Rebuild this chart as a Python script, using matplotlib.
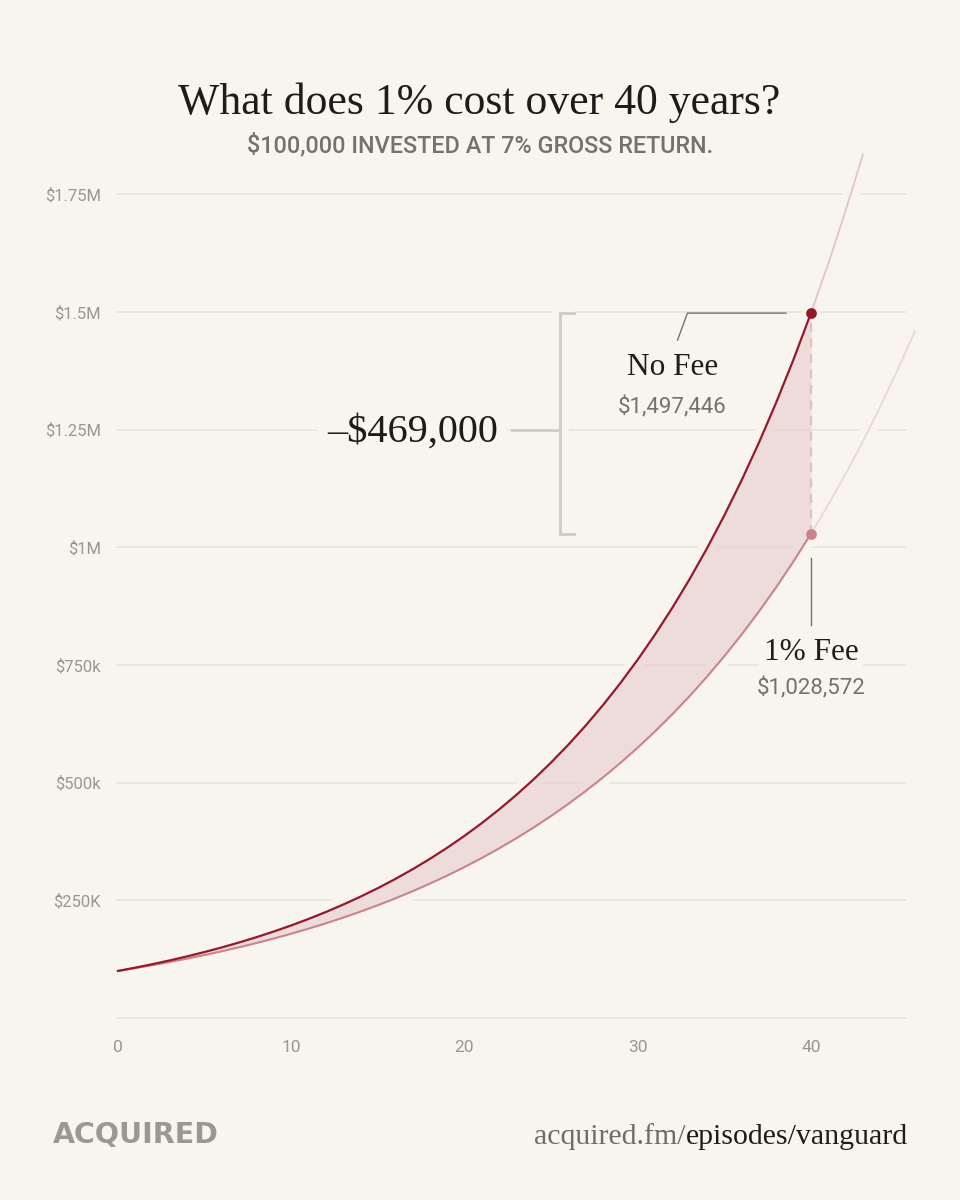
import matplotlib
matplotlib.use("Agg")
import matplotlib.pyplot as plt

# ---------------- data ----------------
years_no_fee = list(range(0, 44))
value_no_fee = [100000, 107000, 114490, 122504, 131080, 140255, 150073, 160578,
                171819, 183846, 196715, 210485, 225219, 240985, 257853, 275903,
                295216, 315882, 337993, 361653, 386968, 414056, 443040, 474053,
                507237, 542743, 580735, 621387, 664884, 711426, 761226, 814512,
                871528, 932535, 997812, 1067658, 1142394, 1222362, 1307927,
                1399482, 1497446, 1602267, 1714426, 1834435]
years_fee = list(range(0, 47))
value_fee = [100000, 106000, 112360, 119102, 126248, 133823, 141852, 150363,
             159385, 168948, 179085, 189830, 201220, 213293, 226090, 239656,
             254035, 269277, 285434, 302560, 320714, 339956, 360354, 381975,
             404893, 429187, 454938, 482235, 511169, 541839, 574349, 608810,
             645339, 684059, 725103, 768609, 814725, 863609, 915425, 970351,
             1028572, 1090286, 1155703, 1225045, 1298548, 1376461, 1459049]
horizon_year = 40
no_fee_final = 1497446
fee_final = 1028572
no_fee_label = "No Fee"
no_fee_value_label = "$1,497,446"
fee_label = "1% Fee"
fee_value_label = "$1,028,572"
diff_label = "\u2013$469,000"
ytick_values = [250000, 500000, 750000, 1000000, 1250000, 1500000, 1750000]
ytick_labels = ["$250K", "$500k", "$750k", "$1M", "$1.25M", "$1.5M", "$1.75M"]
xtick_values = [0, 10, 20, 30, 40]
title = "What does 1% cost over 40 years?"
subtitle = "$100,000 INVESTED AT 7% GROSS RETURN."
brand = "ACQUIRED"
url_a = "acquired.fm/"
url_b = "episodes/vanguard"

# ---------------- style ----------------
BG = "#f8f5ef"
GRID = "#e9e5de"
TICK = "#9a968f"
DARK = "#1e1c1b"
SUB = "#75716c"
RED = "#941a29"
PINK = "#c9858a"
RED_EXT = "#e2c5c7"
PINK_EXT = "#ead7d7"
FILL = "#e6cccd"
BRACKET = "#cfcbc5"
LEADER = "#75716c"
SERIF = ["Liberation Serif", "DejaVu Serif"]
SANS = ["Roboto", "DejaVu Sans"]

fig = plt.figure(figsize=(9.6, 12), dpi=100, facecolor=BG)
ax = fig.add_axes([0.1211, 0.1438, 0.8373, 0.7375])
ax.set_facecolor("none")
ax.set_xlim(-0.1, 46.3)
ax.set_ylim(-20000, 1860000)
for s in ax.spines.values():
    s.set_visible(False)

# gridlines
ax.hlines([0] + ytick_values, -0.1, 45.5, color=GRID, lw=1.3, zorder=1)

i40 = years_no_fee.index(horizon_year)
j40 = years_fee.index(horizon_year)

# halos (cut the gridlines)
for xs, ys in [(years_no_fee, value_no_fee), (years_fee, value_fee)]:
    ax.plot(xs, ys, color=BG, lw=12, solid_capstyle="butt", zorder=2)

# fill between
ax.fill_between(years_no_fee[:i40 + 1], value_fee[:j40 + 1], value_no_fee[:i40 + 1],
                color=FILL, alpha=0.6, lw=0, zorder=3)

# extensions
ax.plot(years_no_fee[i40:], value_no_fee[i40:], color=RED_EXT, lw=1.3, zorder=4)
ax.plot(years_fee[j40:], value_fee[j40:], color=PINK_EXT, lw=1.3, zorder=4)
# main lines
ax.plot(years_fee[:j40 + 1], value_fee[:j40 + 1], color=PINK, lw=1.5, zorder=5)
ax.plot(years_no_fee[:i40 + 1], value_no_fee[:i40 + 1], color=RED, lw=1.6, zorder=6)

# dashed difference
ax.vlines(horizon_year, fee_final, no_fee_final, color="#e0bec2", lw=1.6,
          linestyles=(0, (4, 3)), zorder=4)
ax.scatter([horizon_year], [no_fee_final], s=60, color=RED, zorder=7, lw=0)
ax.scatter([horizon_year], [fee_final], s=60, color=PINK, zorder=7, lw=0)

# bracket
bx, btick = 25.51, 26.32
bracket_x = [btick, bx, bx, btick]
bracket_y = [no_fee_final, no_fee_final, fee_final, fee_final]
ax.plot(bracket_x, bracket_y, color=BG, lw=12, zorder=2, solid_capstyle="butt")
ax.plot(bracket_x, bracket_y, color=BRACKET, lw=2, zorder=5,
        solid_joinstyle="miter")
ax.plot([22.74, bx], [1250000, 1250000], color=BRACKET, lw=2, zorder=5)
ax.text(21.93, 1245000, diff_label, ha="right", va="center", fontsize=29,
        family=SERIF, color=DARK, zorder=6,
        bbox=dict(boxstyle="square,pad=0.25", fc=BG, ec="none"))

# No Fee label
ax.plot([32.3, 32.87, 38.56], [1440000, 1497446, 1497446], color=LEADER, lw=1,
        zorder=5)
ax.text(32.0, 1381000, no_fee_label, ha="center", va="center", fontsize=22.5,
        family=SERIF, color=DARK, zorder=6)
ax.text(32.0, 1298000, no_fee_value_label, ha="center", va="center", fontsize=16,
        family=SANS, color=SUB, zorder=6)

# 1% Fee label
ax.plot([horizon_year, horizon_year], [977000, 835000], color=LEADER, lw=1, zorder=5)
ax.text(horizon_year, 777000, fee_label, ha="center", va="center", fontsize=22.5,
        family=SERIF, color=DARK, zorder=6,
        bbox=dict(boxstyle="square,pad=0.15", fc=BG, ec="none"))
ax.text(horizon_year, 701000, fee_value_label, ha="center", va="center", fontsize=16,
        family=SANS, color=SUB, zorder=6)

# ticks
ax.set_yticks(ytick_values, ytick_labels)
ax.set_xticks(xtick_values, [str(v) for v in xtick_values])
ax.tick_params(axis="y", length=0, pad=11, labelsize=12, labelcolor=TICK)
ax.tick_params(axis="x", length=0, pad=9, labelsize=12.5, labelcolor=TICK)
for lab in ax.get_xticklabels() + ax.get_yticklabels():
    lab.set_family(SANS)

# titles
fig.text(0.499, 1 - 103 / 1200, title, ha="center", va="center", fontsize=31.5,
         family=SERIF, color=DARK)
fig.text(0.5, 1 - 145 / 1200, subtitle, ha="center", va="center", fontsize=16.8,
         family=SANS, weight="medium", color=SUB)

# footer
fig.text(53 / 960, 1 - 1143 / 1200, brand, ha="left", va="baseline", fontsize=20.5,
         family=["DejaVu Sans"], weight="bold", color="#9b9893")
tb = fig.text(908 / 960, 1 - 1144 / 1200, url_b, ha="right", va="baseline",
              fontsize=21.5, family=SERIF, color=DARK)
fig.canvas.draw()
bb = tb.get_window_extent(renderer=fig.canvas.get_renderer())
fig.text(bb.x0 / fig.bbox.width, 1 - 1144 / 1200, url_a, ha="right", va="baseline",
         fontsize=21.5, family=SERIF, color="#6f6b66")

fig.savefig("out.png", dpi=100, facecolor=BG)
